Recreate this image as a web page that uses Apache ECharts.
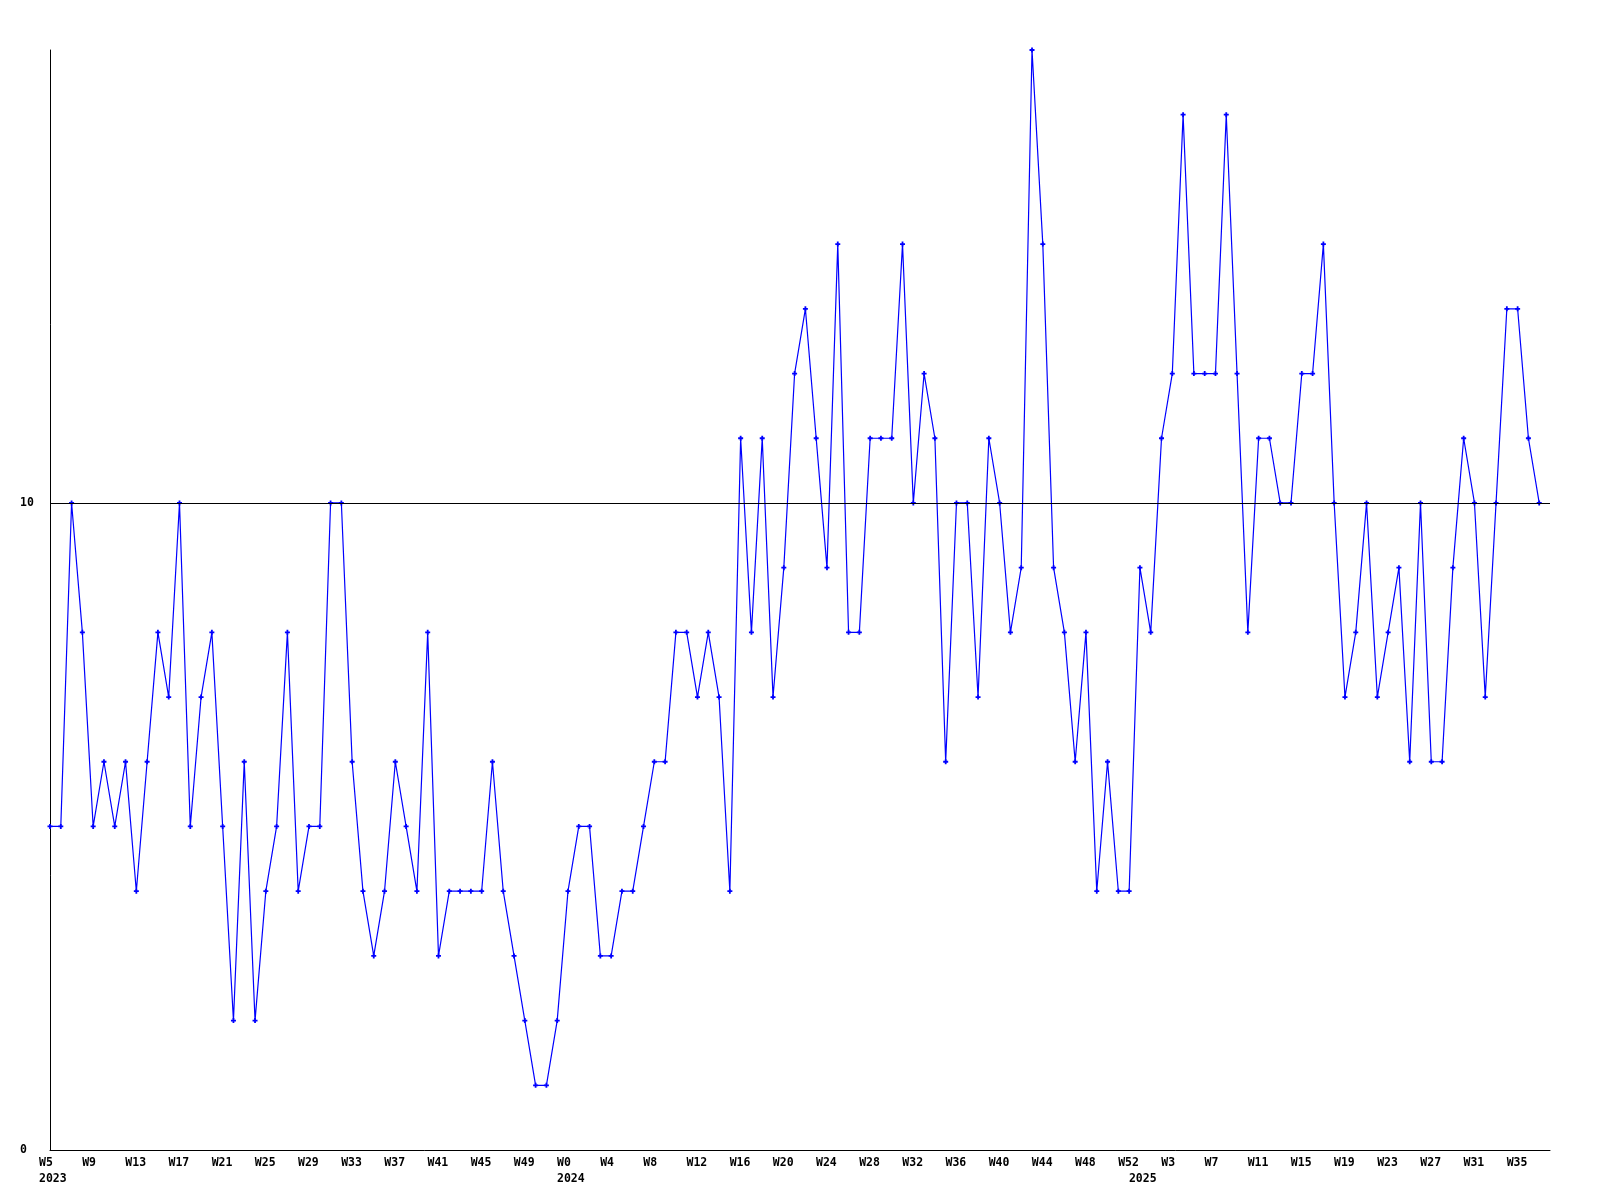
<!DOCTYPE html>
<html>
<head>
<meta charset="utf-8">
<script src="https://cdn.jsdelivr.net/npm/echarts@6/dist/echarts.min.js"></script>
<style>
html,body{margin:0;padding:0;background:#fff;}
#chart{width:1600px;height:1200px;}
</style>
</head>
<body>
<div id="chart"></div>
<script>
// Week categories (year, week number) as shown on the axis
const years = [
  2023,2023,2023,2023,2023,2023,2023,2023,2023,2023,2023,2023,2023,2023,2023,2023,
  2023,2023,2023,2023,2023,2023,2023,2023,2023,2023,2023,2023,2023,2023,2023,2023,
  2023,2023,2023,2023,2023,2023,2023,2023,2023,2023,2023,2023,2023,2023,2023,2023,
  2024,2024,2024,2024,2024,2024,2024,2024,2024,2024,2024,2024,2024,2024,2024,2024,
  2024,2024,2024,2024,2024,2024,2024,2024,2024,2024,2024,2024,2024,2024,2024,2024,
  2024,2024,2024,2024,2024,2024,2024,2024,2024,2024,2024,2024,2024,2024,2024,2024,
  2024,2024,2024,2024,2024,
  2025,2025,2025,2025,2025,2025,2025,2025,2025,2025,2025,2025,2025,2025,2025,2025,
  2025,2025,2025,2025,2025,2025,2025,2025,2025,2025,2025,2025,2025,2025,2025,2025,
  2025,2025,2025,2025,2025,2025
];
const weeks = [
  5,6,7,8,9,10,11,12,13,14,15,16,17,18,19,20,21,22,23,24,25,26,27,28,
  29,30,31,32,33,34,35,36,37,38,39,40,41,42,43,44,45,46,47,48,49,50,51,52,
  0,1,2,3,4,5,6,7,8,9,10,11,12,13,14,15,16,17,18,19,20,21,22,23,24,25,26,
  27,28,29,30,31,32,33,34,35,36,37,38,39,40,41,42,43,44,45,46,47,48,49,50,51,52,
  0,1,2,3,4,5,6,7,8,9,10,11,12,13,14,15,16,17,18,19,
  20,21,22,23,24,25,26,27,28,29,30,31,32,33,34,35,36,37
];
const values = [
  5,5,10,8,5,6,5,6,4,6,
  8,7,10,5,7,8,5,2,6,2,
  4,5,8,4,5,5,10,10,6,4,
  3,4,6,5,4,8,3,4,4,4,
  4,6,4,3,2,1,1,2,4,5,
  5,3,3,4,4,5,6,6,8,8,
  7,8,7,4,11,8,11,7,9,12,
  13,11,9,14,8,8,11,11,11,14,
  10,12,11,6,10,10,7,11,10,8,
  9,17,14,9,8,6,8,4,6,4,
  4,9,8,11,12,16,12,12,12,16,
  12,8,11,11,10,10,12,12,14,10,
  7,8,10,7,8,9,6,10,6,6,
  9,11,10,7,10,13,13,11,10
];
const yMax = 17;
const refLine = 10;

// categories (one extra empty slot at the end, as the axis runs past the last week)
const categories = years.map((y, i) => y + '-W' + weeks[i]);
categories.push('');

function isYearStart(i) {
  return i < years.length && (i === 0 || years[i] !== years[i - 1]);
}

const chart = echarts.init(document.getElementById('chart'));
chart.setOption({
  animation: false,
  backgroundColor: '#ffffff',
  grid: { left: 50, right: 50, top: 50, bottom: 50, containLabel: false },
  xAxis: {
    type: 'category',
    data: categories,
    boundaryGap: false,
    axisLine: { show: true, lineStyle: { color: '#000', width: 1 } },
    axisTick: { show: false },
    splitLine: { show: false },
    axisLabel: {
      interval: function (i) { return (i % 4 === 0 && i < years.length) || isYearStart(i); },
      formatter: function (v, i) {
        const w = (i % 4 === 0) ? 'W' + weeks[i] : '';
        return isYearStart(i) ? w + '\n' + years[i] : w;
      },
      align: 'left',
      padding: [0, 0, 0, -11],
      margin: 5,
      color: '#000',
      fontFamily: 'DejaVu Sans Mono',
      fontWeight: 'bold',
      fontSize: 11.5,
      lineHeight: 16,
      hideOverlap: false
    }
  },
  yAxis: {
    type: 'value',
    min: 0,
    max: yMax,
    interval: 10,
    axisLine: { show: true, lineStyle: { color: '#000', width: 1 } },
    axisTick: { show: false },
    splitLine: { show: false },
    axisLabel: {
      showMaxLabel: false,
      align: 'left',
      margin: 30,
      color: '#000',
      fontFamily: 'DejaVu Sans Mono',
      fontWeight: 'bold',
      fontSize: 11.5
    }
  },
  series: [{
    type: 'line',
    data: values,
    symbol: 'path://M1.6,0H3.4V1.6H5V3.4H3.4V5H1.6V3.4H0V1.6H1.6Z',
    symbolSize: 5,
    showSymbol: true,
    itemStyle: { color: '#0000ff' },
    lineStyle: { color: '#0000ff', width: 1.2 },
    markLine: {
      silent: true,
      symbol: ['none', 'none'],
      label: { show: false },
      lineStyle: { color: '#000', width: 1, type: 'solid' },
      data: [{ yAxis: refLine }]
    },
    z: 3
  }]
});
</script>
</body>
</html>
